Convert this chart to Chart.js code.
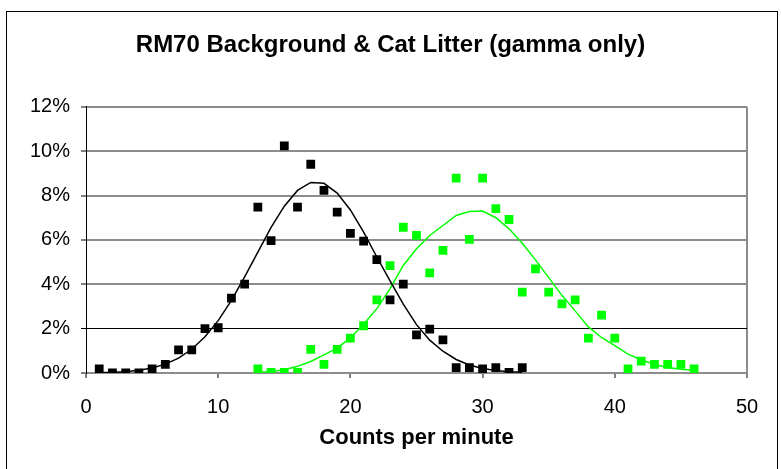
<!DOCTYPE html>
<html><head><meta charset="utf-8">
<script src="https://cdn.jsdelivr.net/npm/chart.js@4.4.1/dist/chart.umd.min.js"></script>
<style>
html,body{margin:0;padding:0;background:#fff;}
#wrap{position:relative;width:781px;height:469px;overflow:hidden;}
#frame{position:absolute;left:6px;top:11px;width:772px;height:480px;border:1px solid #000;box-sizing:border-box;pointer-events:none;}
</style></head><body>
<div id="wrap"><canvas id="c" width="781" height="469"></canvas><div id="frame"></div></div>
<script>
const chartTitle = 'RM70 Background & Cat Litter (gamma only)';
const xAxisTitle = 'Counts per minute';

// Background (black) — counts per minute and % of samples
const bgCounts = [1,2,3,4,5,6,7,8,9,10,11,12,13,14,15,16,17,18,19,20,21,22,23,24,25,26,27,28,29,30,31,32,33];
const bgPct    = [0.19,0,0,0,0.19,0.39,1.04,1.04,2.0,2.04,3.38,4.01,7.48,5.97,10.24,7.48,9.41,8.23,7.25,6.29,5.94,5.11,3.30,4.01,1.72,1.98,1.49,0.24,0.24,0.19,0.24,0.03,0.24];
const bgFit    = [0.02,0.03,0.06,0.12,0.23,0.40,0.67,1.07,1.63,2.36,3.27,4.33,5.45,6.56,7.52,8.23,8.59,8.55,8.11,7.35,6.35,5.23,4.15,3.10,2.18,1.48,0.98,0.61,0.36,0.20,0.11,0.06,0.03];

// Cat litter (green)
const litterCounts = [13,14,15,16,17,18,19,20,21,22,23,24,25,26,27,28,29,30,31,32,33,34,35,36,37,38,39,40,41,42,43,44,45,46];
const litterPct    = [0.19,0.03,0.03,0.03,1.07,0.39,1.07,1.57,2.13,3.30,4.84,6.57,6.20,4.51,5.53,8.78,6.02,8.78,7.41,6.92,3.65,4.69,3.65,3.12,3.30,1.57,2.61,1.57,0.19,0.54,0.39,0.39,0.39,0.19];
const litterFit    = [0.03,0.06,0.15,0.30,0.52,0.82,1.12,1.58,2.20,2.90,3.80,4.85,5.60,6.20,6.65,7.10,7.28,7.30,7.00,6.50,5.85,5.10,4.30,3.50,2.80,2.08,1.60,1.23,0.85,0.60,0.38,0.25,0.17,0.12];

const xTicks = {min:0, max:50, step:10};
const yTicks = {min:0, max:12, step:2};

const FONT = '"Liberation Sans", Arial, sans-serif';
const BLACK = '#000000';
const GREEN = '#00FF00';
const pts = (xs, ys) => xs.map((x, i) => ({x: x, y: ys[i]}));

new Chart(document.getElementById('c'), {
  type: 'scatter',
  data: {
    datasets: [
      {data: pts(bgCounts, bgPct), backgroundColor: BLACK, borderWidth: 0, pointStyle: 'rect', pointRadius: 6.2, order: 0},
      {data: pts(litterCounts, litterPct), backgroundColor: GREEN, borderWidth: 0, pointStyle: 'rect', pointRadius: 6.2, order: 0},
      {data: pts(bgCounts, bgFit), showLine: true, borderColor: BLACK, borderWidth: 1.5, pointRadius: 0, tension: 0, fill: false, order: 1},
      {data: pts(litterCounts, litterFit), showLine: true, borderColor: GREEN, borderWidth: 1.5, pointRadius: 0, tension: 0, fill: false, order: 1}
    ]
  },
  options: {
    responsive: false,
    animation: false,
    layout: {padding: 0},
    plugins: {
      legend: {display: false},
      tooltip: {enabled: false},
      title: {display: true, text: chartTitle, color: '#000', font: {family: FONT, size: 24, weight: 'bold'}, padding: {top: 31, bottom: 47}}
    },
    scales: {
      x: {
        type: 'linear', position: 'bottom', min: xTicks.min, max: xTicks.max,
        ticks: {stepSize: xTicks.step, color: '#000', font: {family: FONT, size: 20}, padding: 17, maxRotation: 0},
        grid: {color: c => (c.tick && c.tick.value === 50) ? '#8c8c8c' : 'rgba(0,0,0,0)', lineWidth: 2, tickLength: 5, tickColor: '#000', tickWidth: 1},
        border: {color: '#8c8c8c', width: 2},
        title: {display: true, text: xAxisTitle, color: '#000', font: {family: FONT, size: 22, weight: 'bold'}, padding: {top: 0, bottom: 18}},
        afterFit: s => { s.height = 96; }
      },
      y: {
        type: 'linear', position: 'left', min: yTicks.min, max: yTicks.max,
        ticks: {stepSize: yTicks.step, color: '#000', font: {family: FONT, size: 20}, padding: 11, callback: v => v + '%'},
        grid: {color: c => (c.tick && c.tick.value === 2) ? '#000' : '#8c8c8c', lineWidth: c => (c.tick && c.tick.value === 2) ? 1 : 2, tickLength: 5, tickColor: '#000', tickWidth: 1},
        border: {color: '#000', width: 1},
        afterFit: s => { s.width = 86; }
      },
      yr: {
        type: 'linear', position: 'right', display: true,
        grid: {display: false}, ticks: {display: false}, border: {display: false},
        afterFit: s => { s.width = 34; }
      }
    }
  }
});
</script>
</body></html>
